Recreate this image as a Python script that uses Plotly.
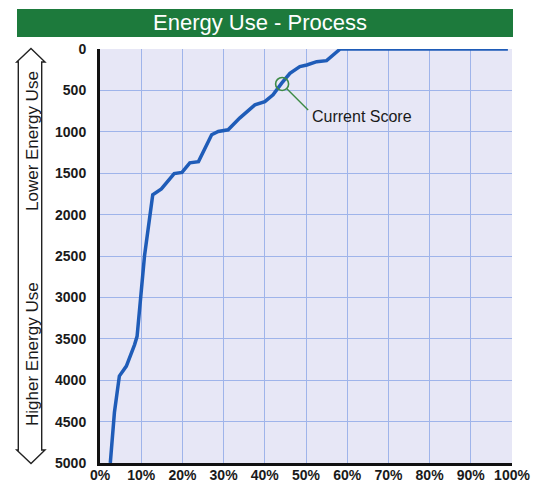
import plotly.graph_objects as go

# ---- data ----
pct = [2.5, 3.5, 4.7, 6.4, 8.4, 9.0, 10.8, 12.8, 14.9, 16.1, 18.0, 19.9, 21.8, 23.9,
       27.1, 28.7, 31.1, 33.9, 35.6, 37.6, 40.0, 42.0, 44.1, 46.1, 48.5, 50.2,
       52.6, 55.0, 58.3, 99.0]
energy = [5000, 4390, 3950, 3830, 3570, 3470, 2500, 1760, 1690, 1620, 1505, 1490, 1375, 1360,
          1036, 996, 976, 835, 767, 675, 635, 554, 413, 293, 213, 193,
          153, 141, 0, 0]
current_x = [44.2]
current_y = [422]
y_ticks = list(range(0, 5001, 500))
x_ticks = list(range(0, 101, 10))
title_text = "Energy Use - Process"
lower_label = "Lower Energy Use"
higher_label = "Higher Energy Use"
current_label = "Current Score"

W, H = 535, 488
PL, PR, PT, PB = 100, 512, 49, 463   # plot area on screen
ML, MT = PL, PT
MR, MB = W - PR, H - PB
PW, PH = PR - PL, PB - PT


def px(x):
    return (x - PL) / PW


def py(y):
    return (PB - y) / PH


FONT = "Liberation Sans, Arial"
GREEN = "#3d8a45"

fig = go.Figure()
fig.add_trace(go.Scatter(x=pct, y=energy, mode="lines",
                         line=dict(color="#1f5cb8", width=3.5),
                         hoverinfo="skip", showlegend=False))
fig.add_trace(go.Scatter(x=current_x, y=current_y, mode="markers",
                         marker=dict(symbol="circle-open", size=13,
                                     line=dict(color=GREEN, width=1.6),
                                     color=GREEN),
                         showlegend=False, hoverinfo="skip"))

# leader line anchored to the current score point (pixel offsets)
fig.add_shape(type="line", xref="x", yref="y",
              xsizemode="pixel", ysizemode="pixel",
              xanchor=current_x[0], yanchor=current_y[0],
              x0=4.5, y0=-4.5, x1=26, y1=-26,
              line=dict(color=GREEN, width=1.4), layer="above")
fig.add_annotation(x=current_x[0], y=current_y[0], xref="x", yref="y",
                   text=current_label, showarrow=False,
                   xanchor="left", yanchor="top", xshift=28, yshift=-22,
                   font=dict(family=FONT, size=16, color="#1a1a1a"))

# title bar
fig.add_shape(type="rect", xref="paper", yref="paper",
              x0=px(17), x1=px(513), y0=py(37), y1=py(9),
              fillcolor="#1d7a3c", line=dict(width=0), layer="above")
fig.add_annotation(xref="paper", yref="paper", x=px(260), y=py(23),
                   text=title_text, showarrow=False,
                   font=dict(family=FONT, size=22, color="white"),
                   xanchor="center", yanchor="middle")

# double-headed arrow on the left
pts = [(31, 48.5), (45, 62), (41.7, 62), (41.7, 450), (45, 450), (31, 463.5),
       (16.7, 450), (18.3, 450), (18.3, 62), (16.7, 62)]
path = "M " + " L ".join(f"{px(a):.5f},{py(b):.5f}" for a, b in pts) + " Z"
fig.add_shape(type="path", xref="paper", yref="paper", path=path,
              fillcolor="white", line=dict(color="#222222", width=1.4))
fig.add_annotation(xref="paper", yref="paper", x=px(32), y=py(141),
                   text=lower_label, textangle=-90, showarrow=False,
                   xanchor="center", yanchor="middle",
                   font=dict(family=FONT, size=17, color="#1a1a1a"))
fig.add_annotation(xref="paper", yref="paper", x=px(32), y=py(354),
                   text=higher_label, textangle=-90, showarrow=False,
                   xanchor="center", yanchor="middle",
                   font=dict(family=FONT, size=17, color="#1a1a1a"))

tickfont = dict(family=FONT, size=14, color="#1a1a1a", weight="bold")
fig.update_xaxes(range=[0, 100], tickvals=x_ticks, ticktext=[f"{v}%" for v in x_ticks],
                 showgrid=True, gridcolor="#9fb4ea", gridwidth=1.3,
                 showline=True, linecolor="#111111", linewidth=3,
                 zeroline=False, ticks="", tickfont=tickfont, ticklabelstandoff=-3,
                 automargin=False)
fig.update_yaxes(range=[5000, 0], tickvals=y_ticks, ticktext=[str(v) for v in y_ticks],
                 showgrid=True, gridcolor="#9fb4ea", gridwidth=1.3,
                 showline=True, linecolor="#111111", linewidth=3,
                 zeroline=False, ticks="", tickfont=tickfont, ticklabelstandoff=8,
                 automargin=False)

fig.update_layout(width=W, height=H, autosize=False,
                  margin=dict(l=ML, r=MR, t=MT, b=MB, pad=0),
                  paper_bgcolor="white", plot_bgcolor="#e7e7f6",
                  showlegend=False)

fig.write_html("out.html", config={"displayModeBar": False},
               post_script="document.body.style.margin='0px';"
                           "document.body.style.overflow='hidden';")
